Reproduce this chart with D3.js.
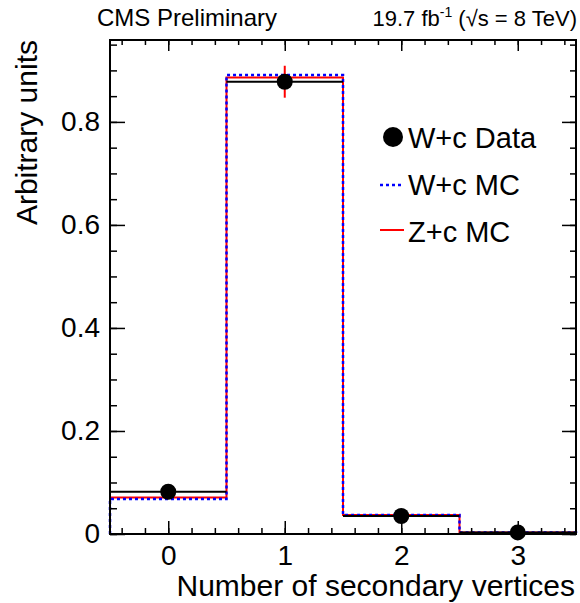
<!DOCTYPE html>
<html>
<head>
<style>
  body { margin: 0; background: #fff; }
  svg text { font-family: "Liberation Sans", Arial, sans-serif; fill: #000; }
  .axis .domain { stroke: none; }
  .axis line { stroke: #000; stroke-width: 1.5; }
</style>
<script src="https://d3js.org/d3.v7.min.js"></script>
</head>
<body>
<svg id="plot" width="580" height="603"></svg>
<script>
// bins: number of secondary vertices
const bins = [0, 1, 2, 3];
const dataVals = [0.082, 0.878, 0.035, 0.003];
const dataErr = [0.004, 0.031, 0.004, 0.001];
const wcMC = [0.068, 0.891, 0.037, 0.003];
const zcMC = [0.071, 0.886, 0.037, 0.003];
const yTicks = [0, 0.2, 0.4, 0.6, 0.8];
const xTicks = [0, 1, 2, 3];

const svg = d3.select("svg#plot");
const margins = {"top": 40, "right": 4, "bottom": 69, "left": 110};
const width = +svg.attr("width");
const height = +svg.attr("height");
const chartWidth = width - margins.left - margins.right;
const chartHeight = height - margins.top - margins.bottom;

svg.append("rect").attr("width", width).attr("height", height).attr("fill", "#fff");

const xScale = d3.scaleLinear().domain([-0.5, 3.5]).range([0, chartWidth]);
const yScale = d3.scaleLinear().domain([0, 0.959]).range([chartHeight, 0]);

const plot = svg.append("g")
  .attr("transform", "translate(" + margins.left + "," + margins.top + ")");

// step histogram path
function stepLine(vals) {
  let pts = [[xScale(-0.5), yScale(0)]];
  vals.forEach((v, i) => {
    pts.push([xScale(bins[i] - 0.5), yScale(v)]);
    pts.push([xScale(bins[i] + 0.5), yScale(v)]);
  });
  pts.push([xScale(3.5), yScale(0)]);
  return d3.line()(pts);
}

plot.append("path")
  .attr("d", stepLine(zcMC))
  .attr("fill", "none")
  .attr("stroke", "#ff0000")
  .attr("stroke-width", 2);

plot.append("path")
  .attr("d", stepLine(wcMC))
  .attr("fill", "none")
  .attr("stroke", "#0000ff")
  .attr("stroke-width", 2.5)
  .attr("stroke-dasharray", "3,3");

// data: horizontal bin lines, error bars, markers
bins.forEach((b, i) => {
  plot.append("line")
    .attr("x1", xScale(b - 0.5)).attr("x2", xScale(b + 0.5))
    .attr("y1", yScale(dataVals[i])).attr("y2", yScale(dataVals[i]))
    .attr("stroke", "#000").attr("stroke-width", 2);
  plot.append("line")
    .attr("x1", xScale(b)).attr("x2", xScale(b))
    .attr("y1", yScale(dataVals[i] - dataErr[i])).attr("y2", yScale(dataVals[i] + dataErr[i]))
    .attr("stroke", "#ff0000").attr("stroke-width", 2);
  plot.append("circle")
    .attr("cx", xScale(b))
    .attr("cy", yScale(dataVals[i]))
    .attr("r", 8)
    .attr("fill", "#000");
});

// axes with ticks pointing inward
const xMinor = d3.range(-0.4, 3.5, 0.2).map(d => Math.round(d * 10) / 10);
const yMinor = d3.range(0, 0.96, 0.05).map(d => Math.round(d * 100) / 100);

plot.append("g").attr("class", "axis")
  .attr("transform", "translate(0," + chartHeight + ")")
  .call(d3.axisBottom(xScale).tickValues(xMinor).tickSize(-6).tickFormat(""));
let bottomAxis = plot.append("g").attr("class", "axis")
  .attr("transform", "translate(0," + chartHeight + ")")
  .call(d3.axisBottom(xScale).tickValues(xTicks).tickSize(-13).tickPadding(11).tickFormat(d3.format("d")));
bottomAxis.selectAll("text").style("font-size", "28px");

plot.append("g").attr("class", "axis")
  .call(d3.axisTop(xScale).tickValues(xMinor).tickSize(-5).tickFormat(""));
plot.append("g").attr("class", "axis")
  .call(d3.axisTop(xScale).tickValues(xTicks).tickSize(-11).tickFormat(""));

plot.append("g").attr("class", "axis")
  .call(d3.axisLeft(yScale).tickValues(yMinor).tickSize(-7).tickFormat(""));
let leftAxis = plot.append("g").attr("class", "axis")
  .call(d3.axisLeft(yScale).tickValues(yTicks).tickSize(-15).tickPadding(10)
    .tickFormat(d => d === 0 ? "0" : d3.format(".1f")(d)));
leftAxis.selectAll("text").style("font-size", "28px");

plot.append("g").attr("class", "axis")
  .attr("transform", "translate(" + chartWidth + ",0)")
  .call(d3.axisRight(yScale).tickValues(yMinor).tickSize(-6).tickFormat(""));
plot.append("g").attr("class", "axis")
  .attr("transform", "translate(" + chartWidth + ",0)")
  .call(d3.axisRight(yScale).tickValues(yTicks).tickSize(-14).tickFormat(""));

// frame
plot.append("rect")
  .attr("width", chartWidth).attr("height", chartHeight)
  .attr("fill", "none").attr("stroke", "#000").attr("stroke-width", 2);

// axis titles
svg.append("text")
  .attr("x", 575)
  .attr("y", 596)
  .style("text-anchor", "end")
  .style("font-size", "30px")
  .text("Number of secondary vertices");

svg.append("text")
  .attr("transform", "translate(37,40) rotate(-90)")
  .style("text-anchor", "end")
  .style("font-size", "30px")
  .text("Arbitrary units");

// header
svg.append("text")
  .attr("x", 97).attr("y", 26)
  .style("font-size", "24px")
  .text("CMS Preliminary");

let lumi = svg.append("text")
  .attr("x", 577).attr("y", 26)
  .style("text-anchor", "end")
  .style("font-size", "22px");
lumi.append("tspan").text("19.7 fb");
lumi.append("tspan").attr("dy", -9).style("font-size", "14px").text("-1");
lumi.append("tspan").attr("dy", 9).text(" (\u221As = 8 TeV)");

// legend
const legend = svg.append("g");
legend.append("circle").attr("cx", 393).attr("cy", 137).attr("r", 10).attr("fill", "#000");
legend.append("line").attr("x1", 380).attr("x2", 404).attr("y1", 185).attr("y2", 185)
  .attr("stroke", "#0000ff").attr("stroke-width", 2.5).attr("stroke-dasharray", "3,3");
legend.append("line").attr("x1", 380).attr("x2", 404).attr("y1", 230).attr("y2", 230)
  .attr("stroke", "#ff0000").attr("stroke-width", 2);
const legendLabels = ["W+c Data", "W+c MC", "Z+c MC"];
legendLabels.forEach((t, i) => {
  legend.append("text")
    .attr("x", 408).attr("y", 148 + i * 47)
    .style("font-size", "29px")
    .text(t);
});
</script>
</body>
</html>
